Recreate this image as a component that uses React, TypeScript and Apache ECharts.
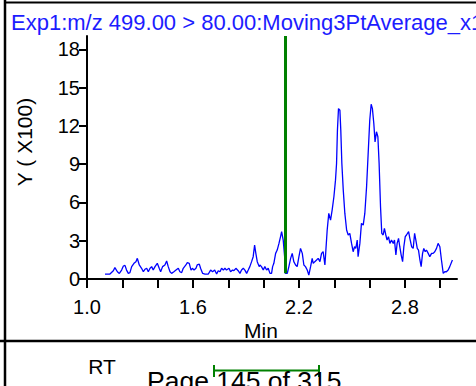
import React, { useEffect, useRef } from "react";
import * as echarts from "echarts";

// ---- data ----
const titleText = "Exp1:m/z 499.00 > 80.00:Moving3PtAverage_x1";
const yAxisTitle = "Y ( X100)";
const xAxisTitle = "Min";
const footerLabel = "RT";
const pageText = "Page 145 of 315";

const xTickValues = [1.0, 1.2, 1.4, 1.6, 1.8, 2.0, 2.2, 2.4, 2.6, 2.8, 3.0];
const xLabelValues = [1.0, 1.6, 2.2, 2.8];
const yTickValues = [0, 3, 6, 9, 12, 15, 18];

const xMin = 1.0;
const xMax = 3.095;
const yMin = 0;
const yMax = 19.05;

// retention marker (green)
const markerTime = 2.124;
const markerBottom = 0.45;

// trace: [time (min), intensity (x100)]
const trace: [number, number][] = [
  [1.102, 0.39], [1.130, 0.39], [1.149, 0.65], [1.158, 0.89], [1.172, 0.57], [1.183, 0.44],
  [1.196, 0.70], [1.206, 1.02], [1.215, 1.07], [1.224, 0.70], [1.234, 0.44], [1.243, 0.50],
  [1.253, 0.97], [1.266, 1.23], [1.277, 1.36], [1.285, 1.62], [1.296, 1.10], [1.309, 0.84],
  [1.319, 0.57], [1.328, 0.76], [1.338, 0.84], [1.347, 0.57], [1.357, 0.84], [1.366, 0.97],
  [1.375, 0.70], [1.385, 0.97], [1.398, 1.23], [1.409, 0.84], [1.417, 0.57], [1.428, 0.97],
  [1.441, 1.10], [1.451, 1.41], [1.460, 0.97], [1.470, 0.57], [1.479, 0.44], [1.492, 0.57],
  [1.504, 0.70], [1.517, 0.84], [1.526, 0.57], [1.536, 0.50], [1.545, 0.84], [1.560, 1.10],
  [1.568, 1.28], [1.579, 1.23], [1.589, 0.70], [1.598, 0.84], [1.606, 0.70], [1.617, 0.84],
  [1.624, 1.10], [1.636, 1.17], [1.643, 0.84], [1.655, 0.44], [1.668, 0.39], [1.687, 0.39],
  [1.700, 0.70], [1.711, 0.57], [1.723, 0.70], [1.734, 0.39], [1.743, 0.65], [1.753, 0.57],
  [1.762, 0.84], [1.772, 0.70], [1.781, 0.84], [1.790, 0.70], [1.804, 0.84], [1.813, 0.57],
  [1.824, 0.70], [1.832, 0.65], [1.843, 0.84], [1.856, 0.65], [1.866, 0.44], [1.875, 0.70],
  [1.885, 0.84], [1.894, 0.70], [1.904, 0.44], [1.913, 0.70], [1.922, 0.97], [1.932, 1.36],
  [1.941, 1.75], [1.949, 2.66], [1.956, 2.01], [1.964, 1.36], [1.975, 0.97],
  [1.979, 1.10], [1.988, 0.97], [1.998, 0.70], [2.007, 0.97], [2.017, 0.70], [2.026, 0.84],
  [2.036, 0.44], [2.045, 0.44], [2.051, 0.97], [2.058, 1.23], [2.068, 2.01], [2.077, 2.27],
  [2.087, 2.79], [2.096, 3.32], [2.102, 3.71], [2.111, 3.05], [2.119, 1.75], [2.124, 0.44],
  [2.134, 0.44], [2.143, 0.97], [2.153, 1.62], [2.162, 2.01], [2.171, 1.36], [2.181, 1.10],
  [2.190, 0.97], [2.200, 1.75], [2.209, 2.40], [2.219, 2.01], [2.228, 1.10], [2.237, 0.97],
  [2.247, 0.70], [2.256, 0.31], [2.266, 0.97], [2.275, 1.62], [2.281, 1.23], [2.290, 1.36],
  [2.300, 1.49], [2.309, 1.62], [2.319, 1.36], [2.328, 2.01], [2.337, 2.14], [2.347, 1.10],
  [2.352, 2.14], [2.360, 3.84], [2.369, 5.14], [2.379, 4.62], [2.388, 5.40], [2.398, 6.45],
  [2.407, 7.75], [2.413, 9.06], [2.418, 11.67], [2.424, 13.36], [2.432, 13.23], [2.437, 11.67],
  [2.443, 9.06], [2.451, 6.97], [2.460, 5.14], [2.470, 3.84], [2.479, 3.45], [2.488, 3.58],
  [2.498, 2.79], [2.507, 2.14], [2.515, 2.53], [2.522, 2.40], [2.530, 3.05], [2.535, 1.75],
  [2.545, 2.79], [2.554, 4.36], [2.564, 4.23], [2.573, 5.14], [2.583, 7.23], [2.592, 9.84],
  [2.601, 12.45], [2.609, 13.70], [2.616, 13.36], [2.624, 12.19], [2.631, 10.75], [2.639, 11.54],
  [2.647, 11.15], [2.654, 9.06], [2.662, 5.66], [2.669, 3.58], [2.677, 3.45], [2.684, 3.97],
  [2.692, 3.45], [2.699, 3.05], [2.707, 3.32], [2.715, 2.79], [2.724, 3.05], [2.734, 2.79],
  [2.741, 3.05], [2.749, 1.88], [2.756, 2.79], [2.764, 3.18], [2.771, 2.53], [2.779, 1.88],
  [2.787, 1.36], [2.794, 2.53], [2.802, 3.32], [2.809, 3.45], [2.821, 3.71], [2.828, 3.18],
  [2.838, 2.53], [2.847, 2.40], [2.855, 3.58], [2.862, 3.05], [2.870, 2.40], [2.877, 2.27],
  [2.885, 1.49], [2.892, 0.97], [2.900, 2.01], [2.907, 2.40], [2.915, 2.14], [2.922, 2.27],
  [2.932, 2.01], [2.941, 1.75], [2.951, 2.01], [2.960, 2.01], [2.969, 2.14], [2.979, 2.40],
  [2.988, 2.79], [2.998, 2.53], [3.007, 1.49], [3.017, 0.44], [3.026, 0.57], [3.035, 0.57],
  [3.045, 0.70], [3.054, 0.97], [3.069, 1.49],
];

const FONT = "'Liberation Sans', Arial, sans-serif";
const GREEN = "#008000";

export default function App() {
  const ref = useRef<HTMLDivElement>(null);

  useEffect(() => {
    if (!ref.current) return;
    const chart = echarts.init(ref.current, null, { renderer: "svg" });
    const option: any = {
      animation: false,
      backgroundColor: "#ffffff",
      grid: { left: 87, top: 36, width: 370, height: 243, containLabel: false },
      xAxis: {
        type: "value",
        min: xMin,
        max: xMax,
        splitLine: { show: false },
        axisLine: { show: true, onZero: false, lineStyle: { color: "#000", width: 2 } },
        axisTick: {
          show: true,
          length: 9,
          lineStyle: { color: "#000", width: 2 },
          customValues: xTickValues,
        },
        axisLabel: {
          show: true,
          margin: 18,
          color: "#000",
          fontSize: 20,
          fontFamily: FONT,
          customValues: xLabelValues,
          formatter: (v: number) => v.toFixed(1),
        },
      },
      yAxis: {
        type: "value",
        min: yMin,
        max: yMax,
        splitLine: { show: false },
        axisLine: { show: true, lineStyle: { color: "#000", width: 2 } },
        axisTick: {
          show: true,
          length: 8,
          lineStyle: { color: "#000", width: 2 },
          customValues: yTickValues,
        },
        axisLabel: {
          show: true,
          margin: 7,
          color: "#000",
          fontSize: 20,
          fontFamily: FONT,
          customValues: yTickValues,
          formatter: (v: number) => String(v),
        },
      },
      series: [
        {
          type: "line",
          data: trace,
          showSymbol: false,
          symbol: "none",
          lineStyle: { color: "#0000ff", width: 1.3 },
          z: 3,
        },
        {
          type: "line",
          data: [
            [markerTime, markerBottom],
            [markerTime, yMax],
          ],
          showSymbol: false,
          symbol: "none",
          lineStyle: { color: GREEN, width: 3 },
          z: 4,
        },
      ],
      graphic: [
        // frame lines
        { type: "line", shape: { x1: 5, y1: 0, x2: 5, y2: 386 }, style: { stroke: "#000", lineWidth: 2.5 } },
        { type: "line", shape: { x1: 4, y1: 2.5, x2: 476, y2: 2.5 }, style: { stroke: "#000", lineWidth: 2 } },
        { type: "line", shape: { x1: 0, y1: 341, x2: 476, y2: 341 }, style: { stroke: "#000", lineWidth: 2.5 } },
        // title
        {
          type: "text",
          x: 11,
          y: 11,
          style: { text: titleText, fill: "#1c1cff", fontSize: 22, fontFamily: FONT, textAlign: "left", textVerticalAlign: "top" },
        },
        // y axis title
        {
          type: "text",
          x: 24,
          y: 142,
          rotation: Math.PI / 2,
          style: { text: yAxisTitle, fill: "#000", fontSize: 21, fontFamily: FONT, textAlign: "center", textVerticalAlign: "middle" },
        },
        // x axis title
        {
          type: "text",
          x: 261,
          y: 330,
          style: { text: xAxisTitle, fill: "#000", fontSize: 21, fontFamily: FONT, textAlign: "center", textVerticalAlign: "middle" },
        },
        // footer
        {
          type: "text",
          x: 102,
          y: 366,
          style: { text: footerLabel, fill: "#000", fontSize: 21, fontFamily: FONT, textAlign: "center", textVerticalAlign: "middle" },
        },
        { type: "line", shape: { x1: 213, y1: 370.5, x2: 320, y2: 370.5 }, style: { stroke: GREEN, lineWidth: 2 } },
        { type: "line", shape: { x1: 214, y1: 365, x2: 214, y2: 377 }, style: { stroke: GREEN, lineWidth: 2 } },
        { type: "line", shape: { x1: 319, y1: 365, x2: 319, y2: 377 }, style: { stroke: GREEN, lineWidth: 2 } },
        {
          type: "text",
          x: 147,
          y: 367,
          style: { text: pageText, fill: "#000", fontSize: 26.5, fontFamily: FONT, textAlign: "left", textVerticalAlign: "top" },
        },
      ],
    };
    chart.setOption(option);
    return () => chart.dispose();
  }, []);

  return (
    <div
      ref={ref}
      style={{ position: "fixed", left: 0, top: 0, width: 476, height: 386, background: "#fff" }}
    />
  );
}
